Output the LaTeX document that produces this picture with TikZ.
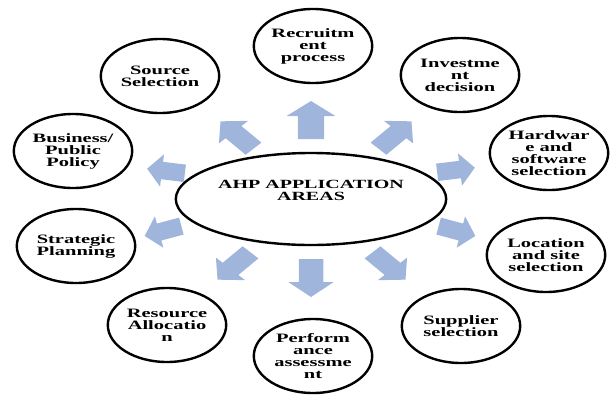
\documentclass[tikz,border=0pt]{standalone}
\usepackage{fontspec}
\setmainfont{Liberation Serif}
\usepackage{tikz}
\usetikzlibrary{shapes.geometric}
\definecolor{paleblue}{RGB}{160,181,220}

\begin{document}
\begin{tikzpicture}[x=1pt,y=-1pt,
    area/.style={draw,circle,line width=2.4pt,minimum size=74pt,inner sep=0pt,xscale=1.6,align=center,font=\fontsize{12.8}{12}\selectfont\bfseries},
    hub/.style={draw,ellipse,line width=2.4pt,minimum width=169pt,minimum height=92pt,inner sep=0pt,xscale=1.6,align=center,font=\fontsize{12.5}{12}\selectfont\bfseries},
    blk/.style={fill=paleblue}]
    \useasboundingbox (0,0) rectangle (610,394);
    \node[hub] (ahp) at (311,199) {AHP APPLICATION\\AREAS\\[6pt]};
    \node[area] (rec) at (313,46) {Recruitm\\ent\\process};
    \node[area] (inv) at (460,75) {Investme\\nt\\decision};
    \node[area] (hw) at (549,153) {Hardwar\\e and\\software\\selection};
    \node[area] (loc) at (546,255) {Location\\and site\\selection};
    \node[area] (sup) at (461,326) {Supplier\\selection};
    \node[area] (perf) at (313,356) {Perform\\ance\\assessme\\nt};
    \node[area] (res) at (167,325) {Resource\\Allocatio\\n};
    \node[area] (strat) at (76,246) {Strategic\\Planning};
    \node[area] (bus) at (73,151) {Business/\\Public\\Policy};
    \node[area] (src) at (160,76) {Source\\Selection};
    % block arrows around the hub: x/y/angle/widening
    \foreach \x/\y/\a/\s in {311/120/90/1.5, 237/135/134/1.25, 395/135/46/1.25, 166/171/173/1, 456/170/7/1,
        163/231/195/1, 457/231/345/1, 234/266/226/1.25, 389/266/314/1.25, 311/278/270/1.4}
      \fill[blk,shift={(\x,\y)},xscale=\s,rotate=\a]
        (-19,-8.75) -- (4,-8.75) -- (4,-16.25) -- (19,0) -- (4,16.25) -- (4,8.75) -- (-19,8.75) -- cycle;
  \end{tikzpicture}
\end{document}
